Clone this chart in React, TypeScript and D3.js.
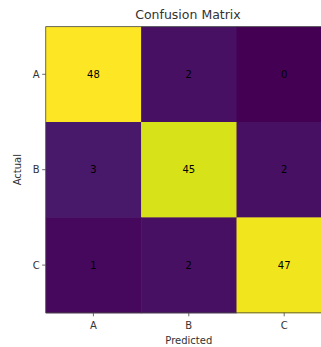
import React from 'react';
import * as d3 from 'd3';

const labels = ['A', 'B', 'C'];
// rows = actual, columns = predicted
const matrix = [
  [48, 2, 0],
  [3, 45, 2],
  [1, 2, 47],
];

const W = 321;
const H = 347;
const left = 45.7;
const top = 26.6;
const cell = 95.4;

export default function App() {
  const x = d3.scaleBand().domain(labels).range([left, left + cell * 3]);
  const y = d3.scaleBand().domain(labels).range([top, top + cell * 3]);
  const maxV = d3.max(matrix.flat()) as number;
  const color = d3.scaleSequential(d3.interpolateViridis).domain([0, maxV]);
  const font = 'DejaVu Sans, sans-serif';
  const bottom = top + cell * 3;

  const cells = [];
  matrix.forEach((row, i) => {
    row.forEach((v, j) => {
      cells.push({ r: labels[i], c: labels[j], v });
    });
  });

  return (
    <svg width={W} height={H} style={{ position: 'absolute', left: 0, top: 0, background: '#fff' }} fontFamily={font}>
      <text x={188} y={19} textAnchor="middle" fontSize={12.5} fill="#333">Confusion Matrix</text>
      {cells.map((d, k) => (
        <rect key={'r' + k} x={x(d.c)} y={y(d.r)} width={x.bandwidth() + 0.5} height={y.bandwidth() + 0.5} fill={color(d.v)} />
      ))}
      {cells.map((d, k) => (
        <text
          key={'t' + k}
          x={(x(d.c) as number) + x.bandwidth() / 2}
          y={(y(d.r) as number) + y.bandwidth() / 2}
          textAnchor="middle"
          dominantBaseline="central"
          fontSize={10}
          fill="#000"
        >{d.v}</text>
      ))}
      {/* frame */}
      <line x1={left} x2={left} y1={top} y2={bottom} stroke="#444" strokeWidth={0.8} />
      <line x1={left} x2={W} y1={bottom} y2={bottom} stroke="#444" strokeWidth={0.8} />
      <line x1={left} x2={W} y1={top} y2={top} stroke="#444" strokeWidth={0.8} />
      {/* y ticks */}
      {labels.map(l => {
        const cy = (y(l) as number) + y.bandwidth() / 2;
        return (
          <g key={'y' + l}>
            <line x1={left - 3.5} x2={left} y1={cy} y2={cy} stroke="#444" strokeWidth={0.8} />
            <text x={left - 6} y={cy} textAnchor="end" dominantBaseline="central" fontSize={10} fill="#333">{l}</text>
          </g>
        );
      })}
      {/* x ticks */}
      {labels.map(l => {
        const cx = (x(l) as number) + x.bandwidth() / 2;
        return (
          <g key={'x' + l}>
            <line x1={cx} x2={cx} y1={bottom} y2={bottom + 3.5} stroke="#444" strokeWidth={0.8} />
            <text x={cx} y={bottom + 16.5} textAnchor="middle" fontSize={10} fill="#333">{l}</text>
          </g>
        );
      })}
      <text x={left + cell * 1.5} y={bottom + 31} textAnchor="middle" fontSize={10} fill="#333">Predicted</text>
      <text
        transform={`translate(${21},${top + cell * 1.5}) rotate(-90)`}
        textAnchor="middle"
        fontSize={10}
        fill="#333"
      >Actual</text>
    </svg>
  );
}
